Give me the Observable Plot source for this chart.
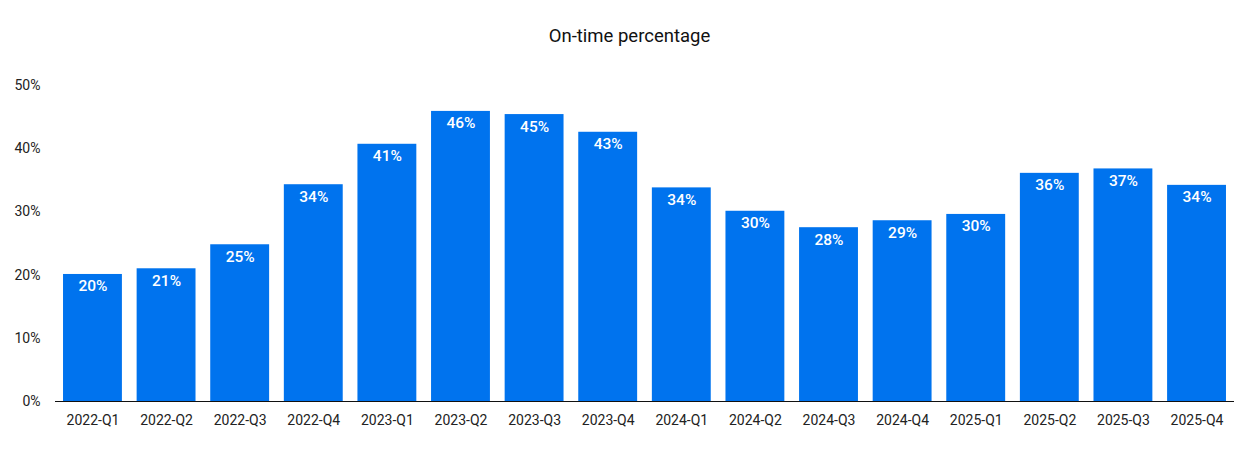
<!DOCTYPE html>
<html>
<head>
<meta charset="utf-8">
<script src="https://cdn.jsdelivr.net/npm/d3@7"></script>
<script src="https://cdn.jsdelivr.net/npm/@observablehq/plot@0.6"></script>
<style>
  body { margin: 0; background: #fff; font-family: Roboto, "Noto Sans", sans-serif; }
  #title { height: 60px; box-sizing: border-box; padding-top: 25px; padding-left: 19px; text-align: center; font-size: 18.5px; color: #111; line-height: 22px; }
</style>
</head>
<body>
<div id="title">On-time percentage</div>
<div id="chart"></div>
<script>
const quarters = ["2022-Q1","2022-Q2","2022-Q3","2022-Q4","2023-Q1","2023-Q2","2023-Q3","2023-Q4","2024-Q1","2024-Q2","2024-Q3","2024-Q4","2025-Q1","2025-Q2","2025-Q3","2025-Q4"];
const onTime = [20.1, 21.0, 24.8, 34.3, 40.7, 45.9, 45.4, 42.6, 33.8, 30.1, 27.5, 28.6, 29.6, 36.1, 36.8, 34.2];
const yTicks = [0, 10, 20, 30, 40, 50];

const data = quarters.map((q, i) => ({quarter: q, value: onTime[i]}));

const chart = Plot.plot({
  width: 1240,
  height: 396,
  marginTop: 25,
  marginBottom: 55,
  marginLeft: 55,
  marginRight: 6,
  style: {fontFamily: "Roboto, 'Noto Sans', sans-serif", fontSize: "14px", color: "#222"},
  x: {domain: quarters, paddingInner: 0.2, paddingOuter: 0.109, round: false, label: null},
  y: {domain: [0, 50], label: null},
  marks: [
    Plot.barY(data, {x: "quarter", y: "value", fill: "#0073EE"}),
    Plot.text(data, {x: "quarter", y: "value", text: d => Math.round(d.value) + "%", dy: 12, fill: "white", fontWeight: 500, fontSize: 15.5}),
    Plot.ruleY([0], {stroke: "#111", strokeWidth: 1}),
    Plot.axisY(yTicks, {tickSize: 0, tickPadding: 0, dx: -15, tickFormat: d => d + "%", label: null, fontSize: 14}),
    Plot.axisX({tickSize: 0, tickPadding: 14, label: null, fontSize: 14})
  ]
});
document.getElementById("chart").appendChild(chart);
</script>
</body>
</html>
